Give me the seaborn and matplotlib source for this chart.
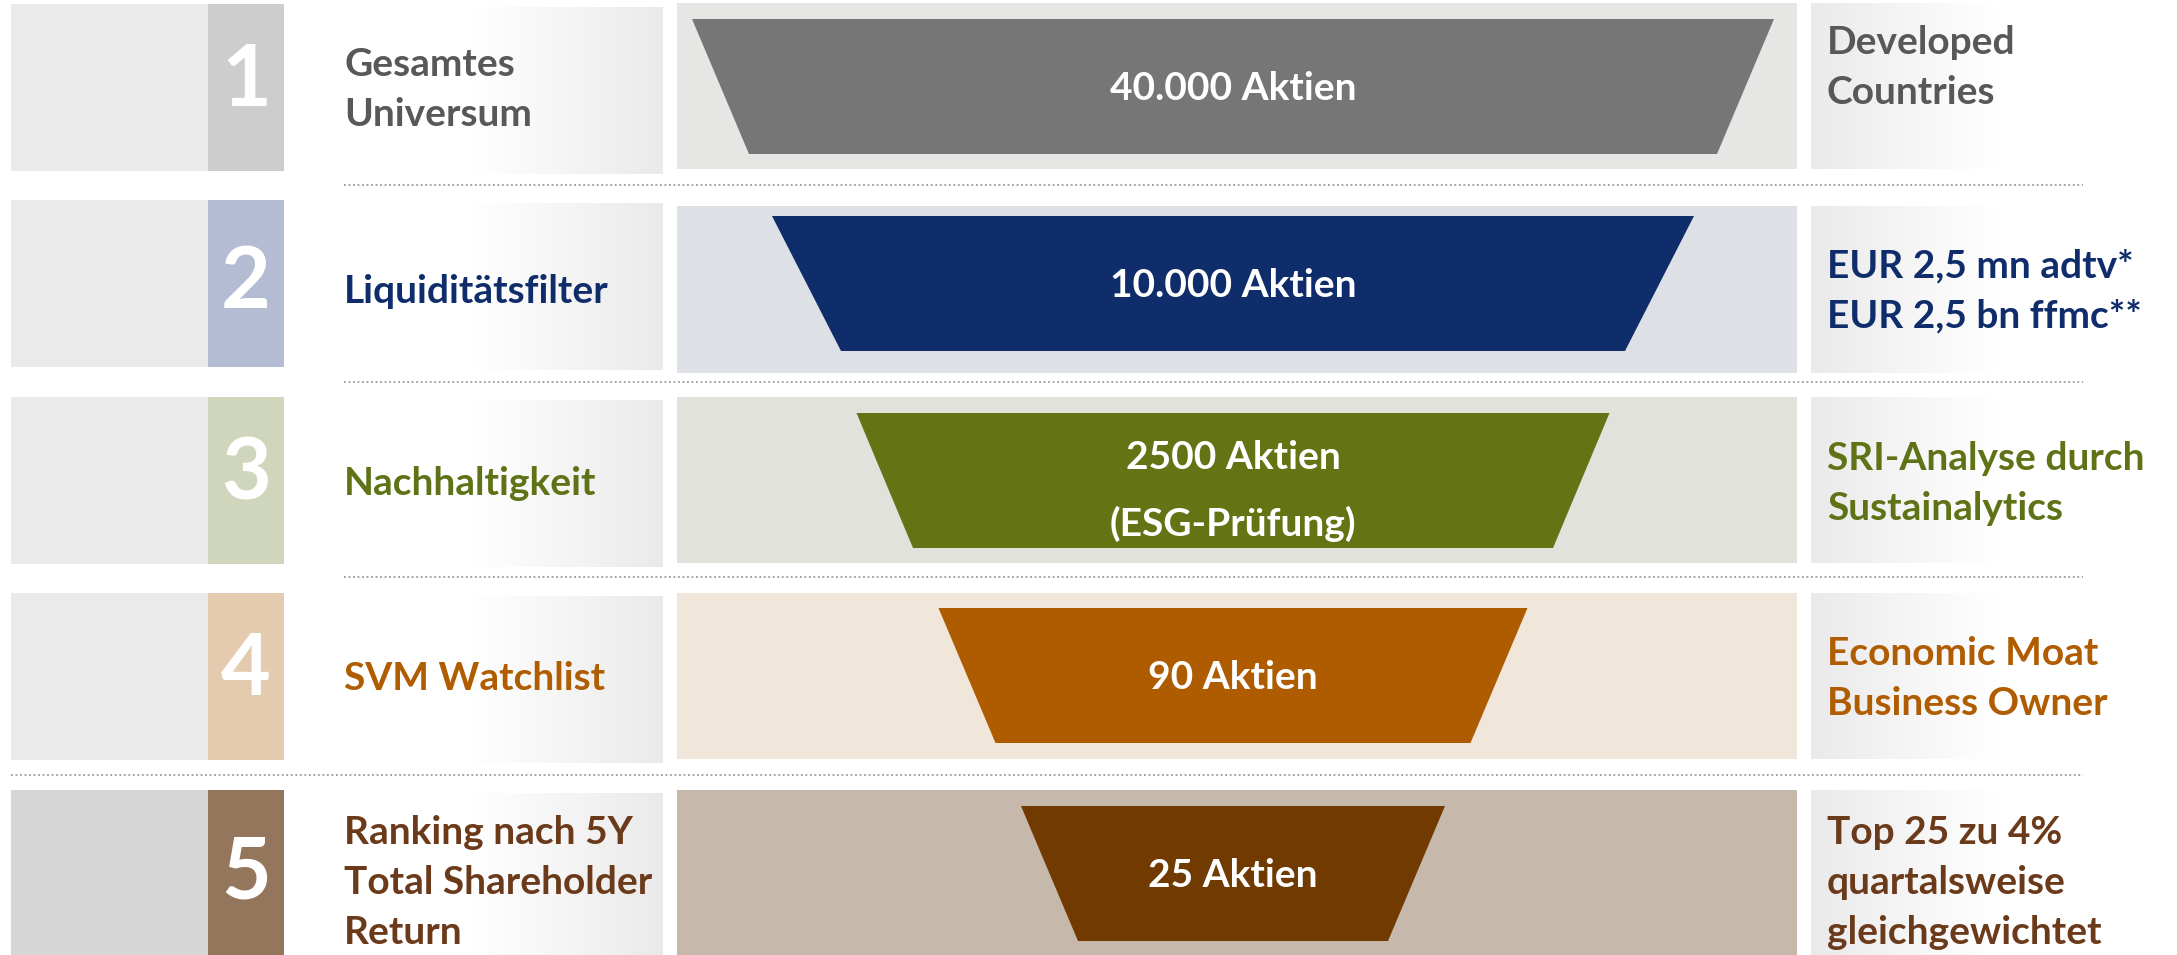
import numpy as np
import matplotlib.pyplot as plt
from matplotlib.patches import Polygon, Rectangle
from matplotlib.colors import LinearSegmentedColormap
import seaborn as sns

# data
steps = ['1', '2', '3', '4', '5']
labels = ['Gesamtes\nUniversum', 'Liquiditätsfilter', 'Nachhaltigkeit', 'SVM Watchlist',
          'Ranking nach 5Y\nTotal Shareholder\nReturn']
counts = ['40.000 Aktien', '10.000 Aktien', '2500 Aktien\n(ESG-Prüfung)', '90 Aktien', '25 Aktien']
notes = ['Developed\nCountries', 'EUR 2,5 mn adtv*\nEUR 2,5 bn ffmc**', 'SRI-Analyse durch\nSustainalytics',
         'Economic Moat\nBusiness Owner', 'Top 25 zu 4%\nquartalsweise\ngleichgewichtet']
top_width = [1082, 922, 753, 589, 424]
bottom_width = [968, 784, 640, 475, 310]

funnel_colors = sns.color_palette(['#767676', '#0f2d6b', '#647415', '#af5b00', '#703a00'])
band_colors = ['#e6e6e5', '#dde1e5', '#e1e2db', '#f0e6da', '#c6b8aa']
num_colors = ['#cdcdcd', '#b3bcd3', '#d0d6bb', '#e4cbb0', '#94765d']
side_colors = ['#eaeaeb', '#eaeaeb', '#eaeaeb', '#eaeaeb', '#d6d6d7']
text_colors = ['#585858', '#0f2d6b', '#5f7316', '#b05c00', '#6b3a1a']

sns.set_theme(style="white")
plt.rcParams['font.family'] = ['Lato', 'DejaVu Sans']

# layout in pixels
box_top = [4, 200, 397, 593, 790]
box_bot = [171, 367, 564, 760, 960]
band_top = [3, 206, 397, 593, 790]
band_bot = [169, 373, 563, 759, 960]
funnel_top = [19, 216, 413, 608, 806]
funnel_h = 135
mid = [87, 289, 481, 676, 880]
cx = 1233
line_h = 50

fig = plt.figure(figsize=(21.77, 9.55), dpi=100)
ax = fig.add_axes([0, 0, 1, 1])
ax.set_xlim(0, 2177)
ax.set_ylim(955, 0)
ax.axis('off')

grad_l = LinearSegmentedColormap.from_list('gl', ['#ffffff', '#ffffff', '#eaeaea'])
grad_r = LinearSegmentedColormap.from_list('gr', ['#eaeaea', '#ffffff', '#ffffff'])
ramp = np.linspace(0, 1, 256).reshape(1, -1)

for i in range(5):
    t, b = box_top[i], box_bot[i]
    ax.add_patch(Rectangle((11, t), 197, b - t, color=side_colors[i], lw=0))
    ax.add_patch(Rectangle((208, t), 76, b - t, color=num_colors[i], lw=0))
    ax.imshow(ramp, cmap=grad_l, extent=[285, 663, b + 3, t + 3], aspect='auto', zorder=1)

    t, b = band_top[i], band_bot[i]
    ax.add_patch(Rectangle((677, t), 1120, b - t, color=band_colors[i], lw=0))
    ax.imshow(ramp, cmap=grad_r, extent=[1811, 2177, b, t], aspect='auto', zorder=1)

    ft = funnel_top[i]
    fb = ft + funnel_h
    pts = [(cx - top_width[i] / 2, ft), (cx + top_width[i] / 2, ft),
           (cx + bottom_width[i] / 2, fb), (cx - bottom_width[i] / 2, fb)]
    ax.add_patch(Polygon(pts, closed=True, color=funnel_colors[i], lw=0, zorder=2))

    # step number
    ax.text(246, mid[i] - 6, steps[i], color='white', fontsize=62, fontweight='bold',
            ha='center', va='center', zorder=3)

    # left label
    lines = labels[i].split('\n')
    for k, s in enumerate(lines):
        y = mid[i] + 2 + (k - (len(lines) - 1) / 2) * line_h
        ax.text(344, y, s, color=text_colors[i], fontsize=28, fontweight='bold',
                ha='left', va='center', zorder=3)

    # funnel text
    lines = counts[i].split('\n')
    fm = (ft + fb) / 2
    if len(lines) > 1:
        fm += 8
    for k, s in enumerate(lines):
        y = fm + 2 + (k - (len(lines) - 1) / 2) * 67
        ax.text(cx, y, s, color='white', fontsize=28, fontweight='bold',
                ha='center', va='center', zorder=3)

    # right note (first one sits at the top of its box)
    lines = notes[i].split('\n')
    nm = mid[i] if i > 0 else 66
    for k, s in enumerate(lines):
        y = nm + 2 + (k - (len(lines) - 1) / 2) * line_h
        ax.text(1827, y, s, color=text_colors[i], fontsize=28, fontweight='bold',
                ha='left', va='center', zorder=3)

# dotted separators
for y, x0 in zip([185, 382, 577, 775], [344, 344, 344, 11]):
    ax.plot([x0, 2083], [y, y], ls=(0, (1, 1.5)), lw=1.3, color='#9a9a9a', zorder=3)

fig.savefig('out.png', dpi=100)
